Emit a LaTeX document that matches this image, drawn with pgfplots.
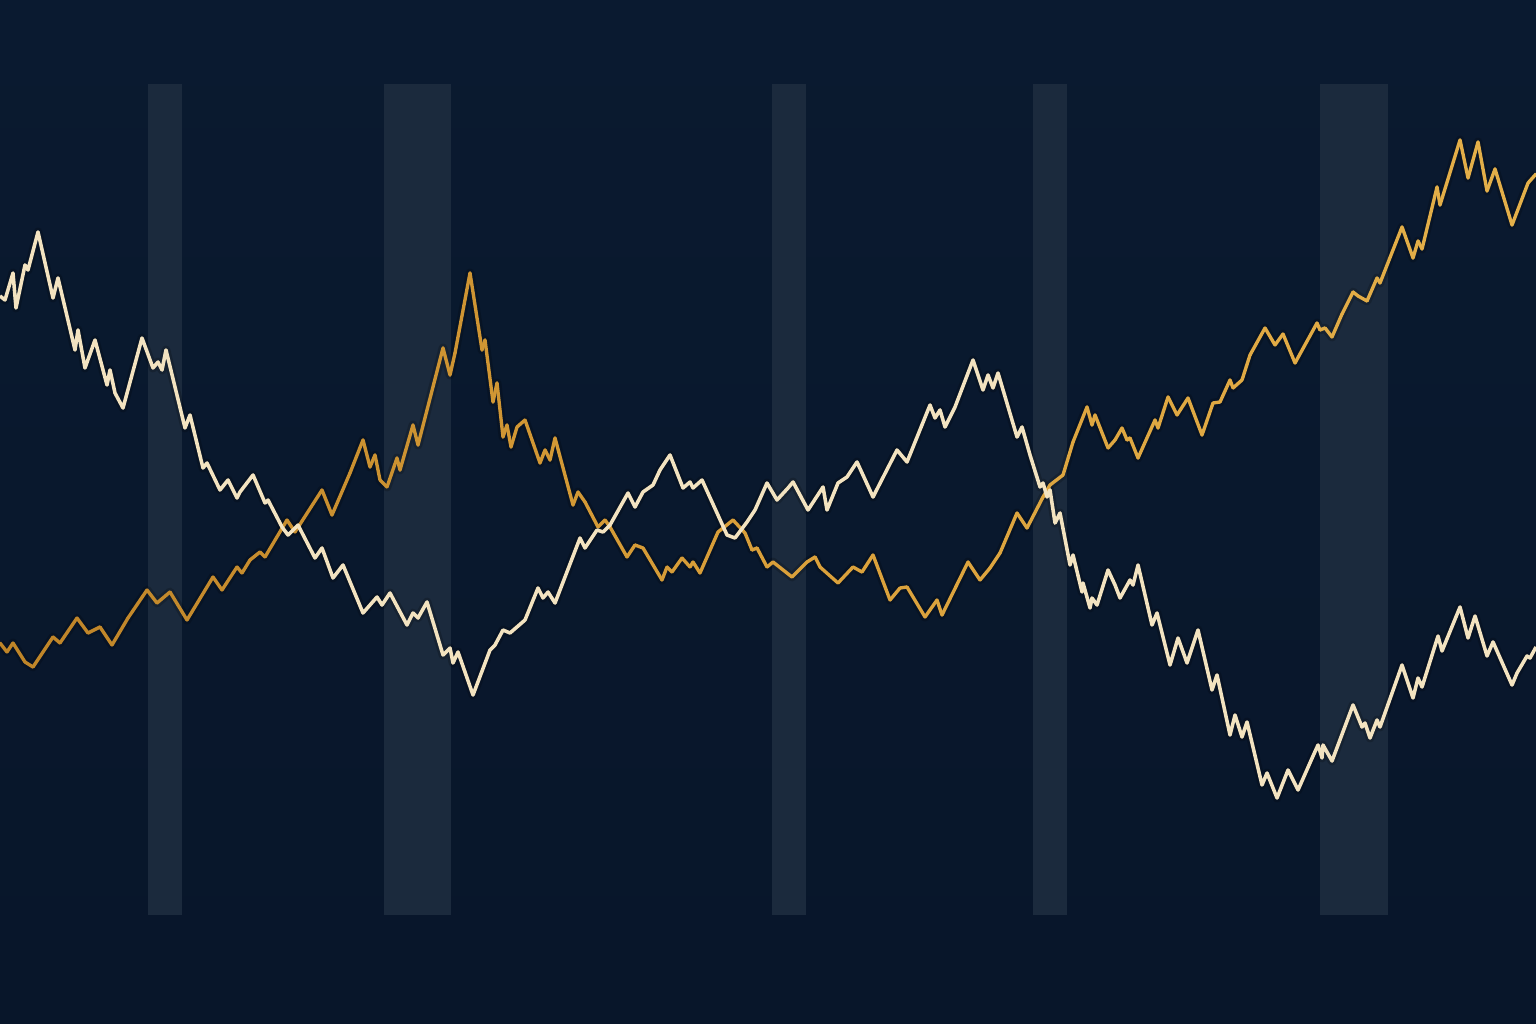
\documentclass[border=0pt]{standalone}
\usepackage{pgfplots}
\pgfplotsset{compat=1.18}
\definecolor{bgtop}{HTML}{0A1A30}
\definecolor{bgbot}{HTML}{08162A}
\definecolor{band}{HTML}{1B2A3D}
\definecolor{cream}{HTML}{F3E3C0}
\definecolor{gold}{HTML}{D9A23A}
\begin{document}
\begin{tikzpicture}
\begin{axis}[
  width=16cm, height=10.6667cm, scale only axis,
  xmin=0, xmax=1536, ymin=0, ymax=1024, y dir=reverse,
  hide axis, clip=true,
  colormap={goldmap}{rgb255(0cm)=(190,132,40) rgb255(1cm)=(218,160,58) rgb255(2cm)=(228,176,74)},
]
% background
\addplot[draw=none, top color=bgtop, bottom color=bgbot] coordinates {(0,0) (1536,0) (1536,1024) (0,1024)} -- cycle;
% bands
\addplot[draw=none, fill=band] coordinates {(148,84) (182,84) (182,915) (148,915)} -- cycle;
\addplot[draw=none, fill=band] coordinates {(384,84) (451,84) (451,915) (384,915)} -- cycle;
\addplot[draw=none, fill=band] coordinates {(772,84) (806,84) (806,915) (772,915)} -- cycle;
\addplot[draw=none, fill=band] coordinates {(1033,84) (1067,84) (1067,915) (1033,915)} -- cycle;
\addplot[draw=none, fill=band] coordinates {(1320,84) (1388,84) (1388,915) (1320,915)} -- cycle;
\def\golddata{(0,643) (7,652) (13,643) (25,662) (33,667) (53,637) (60,643) (77,618) (88,633) (100,627) (112,645) (128,618) (147,590) (157,603) (170,592) (187,620) (213,577) (222,590) (237,567) (242,573) (250,560) (260,552) (265,557) (287,520) (295,532) (322,490) (332,515) (350,473) (363,440) (370,467) (375,455) (380,480) (387,487) (397,458) (400,470) (413,425) (418,445) (443,348) (450,375) (455,353) (470,273) (482,350) (485,340) (493,402) (497,383) (503,437) (507,425) (511,447) (517,427) (525,420) (540,463) (545,450) (550,460) (555,438) (573,505) (578,492) (585,502) (598,527) (605,520) (610,527) (627,557) (635,545) (643,548) (662,580) (667,567) (672,572) (682,558) (690,567) (693,562) (700,573) (718,532) (733,520) (745,533) (752,550) (757,548) (767,567) (773,562) (792,577) (807,562) (815,557) (820,567) (838,583) (853,567) (862,572) (873,555) (890,600) (900,588) (907,587) (925,617) (937,600) (942,615) (968,562) (980,580) (990,568) (1000,553) (1017,513) (1027,528) (1043,497) (1050,485) (1063,475) (1073,442) (1087,407) (1092,425) (1095,415) (1108,448) (1115,440) (1122,428) (1127,440) (1130,438) (1138,458) (1155,420) (1158,428) (1168,397) (1177,415) (1188,398) (1202,435) (1213,403) (1220,402) (1230,380) (1233,388) (1242,380) (1250,355) (1265,328) (1275,345) (1283,334) (1295,363) (1317,323) (1320,330) (1325,328) (1332,337) (1342,314) (1353,292) (1358,296) (1367,301) (1377,278) (1380,283) (1402,227) (1413,258) (1418,241) (1422,249) (1437,187) (1440,205) (1460,140) (1468,178) (1478,142) (1487,191) (1495,169) (1512,225) (1528,183) (1536,174)}
\def\creamdata{(0,296) (5,300) (13,273) (16,308) (25,265) (28,270) (38,232) (53,298) (58,278) (75,350) (78,330) (85,368) (95,340) (107,385) (110,370) (115,393) (123,408) (142,338) (153,368) (158,362) (162,370) (166,350) (175,387) (185,428) (190,415) (203,468) (207,463) (220,490) (228,480) (237,498) (240,492) (253,475) (265,503) (268,500) (282,527) (288,535) (298,525) (315,558) (322,548) (333,578) (343,565) (363,613) (377,597) (382,605) (390,593) (407,625) (413,613) (418,618) (427,602) (443,655) (450,648) (453,663) (458,652) (473,695) (490,650) (495,645) (503,630) (510,633) (525,620) (538,588) (543,598) (548,592) (555,603) (580,538) (585,548) (597,530) (603,532) (610,525) (628,493) (635,507) (643,492) (653,485) (660,470) (670,455) (683,488) (690,482) (693,488) (702,480) (727,535) (735,538) (747,522) (755,510) (767,483) (777,500) (788,488) (793,482) (808,510) (823,487) (827,510) (838,483) (847,477) (857,462) (873,497) (897,450) (907,462) (930,405) (935,418) (940,410) (945,427) (955,407) (973,360) (983,390) (988,375) (993,388) (998,373) (1017,437) (1022,427) (1030,455) (1040,487) (1043,483) (1047,497) (1050,490) (1055,523) (1060,513) (1070,565) (1073,555) (1082,592) (1083,583) (1090,608) (1092,598) (1097,605) (1108,570) (1115,585) (1120,598) (1130,580) (1133,585) (1138,565) (1152,625) (1157,613) (1170,665) (1178,638) (1187,663) (1198,630) (1212,690) (1217,675) (1230,735) (1235,715) (1242,737) (1247,722) (1262,785) (1267,773) (1277,798) (1288,770) (1298,790) (1313,756) (1318,745) (1322,758) (1323,745) (1332,761) (1353,705) (1362,727) (1365,723) (1370,738) (1377,720) (1380,727) (1402,665) (1413,698) (1418,678) (1422,687) (1438,636) (1442,651) (1460,607) (1468,638) (1475,616) (1487,656) (1493,642) (1512,685) (1517,673) (1527,656) (1530,658) (1536,647)}
% faint shadows
\addplot[black, opacity=0.18, line width=2.6pt, line join=round, no markers] coordinates \golddata;
\addplot[black, opacity=0.18, line width=2.6pt, line join=round, no markers] coordinates \creamdata;
% lines
\addplot[mesh, point meta=x, line width=1.0pt, line join=round, line cap=round, no markers] coordinates \golddata;
\addplot[cream, line width=1.05pt, line join=round, no markers] coordinates \creamdata;
\end{axis}
\end{tikzpicture}
\end{document}
